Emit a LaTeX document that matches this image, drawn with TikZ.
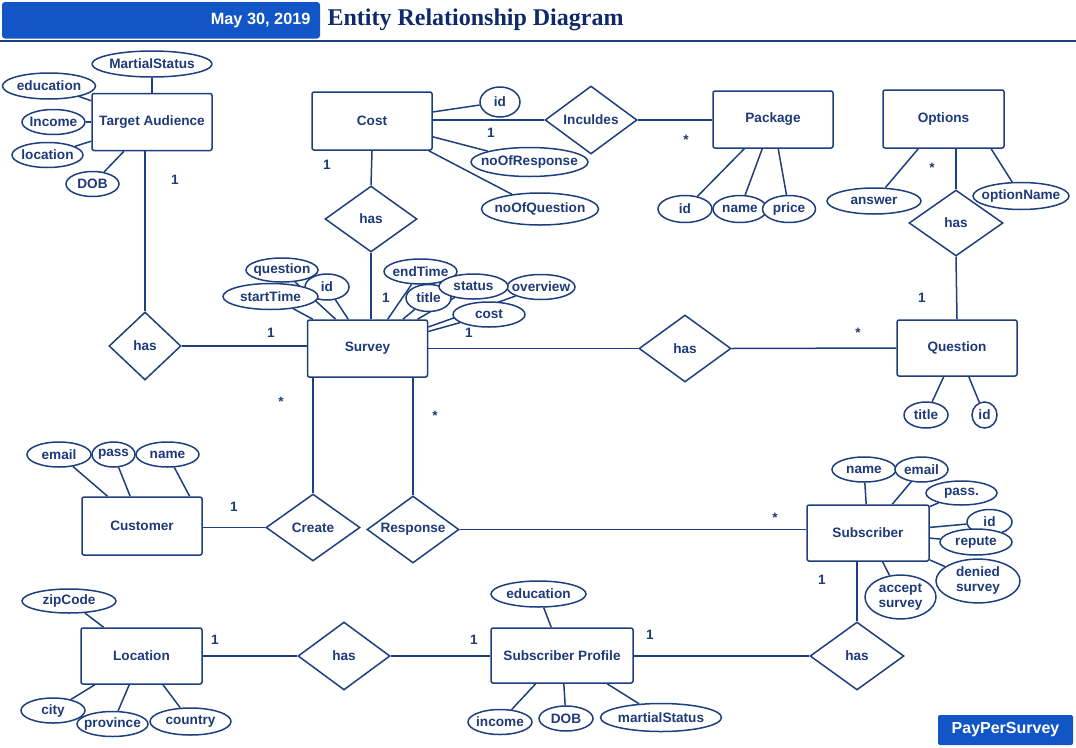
\documentclass[tikz,border=0pt]{standalone}
\usepackage{fontspec}
\setmainfont{Liberation Sans}
\newfontfamily\serifb{Liberation Serif}
\usetikzlibrary{shapes.geometric}
\definecolor{ink}{HTML}{1E3F7D}
\definecolor{txt}{HTML}{1F3A78}
\definecolor{banner}{HTML}{1155C6}
\definecolor{ttl}{HTML}{0F2A6B}
\pgfdeclarelayer{background}
\pgfsetlayers{background,main}
\newcommand{\At}[1]{\makebox[0pt]{#1}}
\newcommand{\Two}[2]{\makebox[0pt]{\begin{tabular}{@{}c@{}}#1\\#2\end{tabular}}}
\begin{document}
\begin{tikzpicture}[x=1pt,y=-1pt,
  every node/.style={font=\fontsize{13.6}{15.5}\selectfont\bfseries, text=txt},
  ent/.style={draw=ink, line width=1.5pt, rounded corners=2pt, fill=white, minimum width=120pt, minimum height=57pt, inner sep=0pt},
  attr/.style={draw=ink, ellipse, line width=1.5pt, fill=white, inner sep=0pt, minimum height=26pt},
  rel/.style={draw=ink, diamond, line width=1.5pt, fill=white, inner sep=0pt, minimum width=92pt, minimum height=66pt},
  lnk/.style={draw=ink, line width=1.5pt},
  card/.style={inner sep=0pt}
]
\useasboundingbox (0,0) rectangle (1076,747);

% header
\fill[banner, rounded corners=3pt] (2,2) rectangle (320,38.5);
\node[anchor=east, text=white, font=\fontsize{16.3}{19}\selectfont\bfseries] (date) at (314,20.5) {May 30, 2019};
\node[anchor=west, text=ttl, font=\serifb\fontsize{24}{27}\selectfont\bfseries] (title) at (324,20) {Entity Relationship Diagram};
\draw[ink, line width=1.5pt] (0,41) -- (1076,41);
\node[fill=banner, text=white, rounded corners=2pt, minimum width=135pt, minimum height=30pt, inner sep=0pt, font=\fontsize{16}{19}\selectfont\bfseries] (brand) at (1005.5,730) {PayPerSurvey};

% entities
\node[ent] (ta) at (152,122) {Target Audience};
\node[ent, minimum height=58pt] (co) at (372,121) {Cost};
\node[ent] (pk) at (773,119.5) {Package};
\node[ent, minimum width=121pt, minimum height=58pt] (op) at (943.5,119) {Options};
\node[ent] (sv) at (367.5,348.5) {Survey};
\node[ent, minimum height=56pt] (qu) at (957,348) {Question};
\node[ent, minimum height=58pt] (cu) at (142,526) {Customer};
\node[ent, minimum width=122pt, minimum height=56pt] (sb) at (868,533) {Subscriber};
\node[ent, minimum width=121pt, minimum height=56pt] (lo) at (141.5,656) {Location};
\node[ent, minimum width=142pt, minimum height=55pt] (sp) at (562,655.5) {Subscriber Profile};

% relationships
\node[rel, minimum width=72pt, minimum height=68pt] (hta) at (145,346) {has};
\node[rel] (hco) at (371,219) {has};
\node[rel, minimum height=68pt] (inc) at (591,120) {\At{Inculdes}};
\node[rel, minimum width=94pt] (hop) at (956,223) {has};
\node[rel, minimum height=67pt] (hqu) at (685,348.5) {has};
\node[rel, minimum width=94pt, minimum height=67pt] (cr) at (313,527.5) {\At{Create}};
\node[rel, minimum height=67pt] (rs) at (413,529.5) {\At{Response}};
\node[rel, minimum height=68pt] (hlo) at (344,656) {has};
\node[rel, minimum width=94pt, minimum height=68pt] (hsb) at (857,656) {has};

% attributes: Target Audience
\node[attr, minimum width=120pt] (ta1) at (152,64) {\At{MartialStatus}};
\node[attr, minimum width=93pt] (ta2) at (49,86) {\At{education}};
\node[attr, minimum width=63pt, minimum height=25pt] (ta3) at (53.5,122) {\At{Income}};
\node[attr, minimum width=71pt, minimum height=25pt] (ta4) at (47.5,155) {\At{location}};
\node[attr, minimum width=53pt, minimum height=25pt] (ta5) at (92.5,184) {\At{DOB}};
% Cost
\node[attr, minimum width=40pt, minimum height=30pt] (co1) at (500,102) {\At{id}};
\node[attr, minimum width=117pt, minimum height=29pt] (co2) at (529.5,162) {\At{noOfResponse}};
\node[attr, minimum width=117pt, minimum height=32pt] (co3) at (540,209) {\At{noOfQuestion}};
% Package
\node[attr, minimum width=54pt, minimum height=27pt] (pk1) at (685,209) {\At{id}};
\node[attr, minimum width=54pt, minimum height=27pt] (pk2) at (740,209) {\At{name}};
\node[attr, minimum width=53pt, minimum height=27pt] (pk3) at (789,209) {\At{price}};
% Options
\node[attr, minimum width=94pt] (op1) at (874,201) {\At{answer}};
\node[attr, minimum width=96pt, minimum height=27pt] (op2) at (1021,196) {\At{optionName}};
% Question
\node[attr, minimum width=44pt] (qu1) at (926,415) {\At{title}};
\node[attr, minimum width=25pt] (qu2) at (984.5,415) {\At{id}};
% Survey
\node[attr, minimum width=44pt] (sv2) at (327,287) {\At{id}};
\node[attr, minimum width=72pt, minimum height=24pt] (sv1) at (282,270) {\At{question}};
\node[attr, minimum width=95pt] (sv3) at (270.5,296.5) {\At{startTime}};
\node[attr, minimum width=73pt, minimum height=25pt] (sv4) at (420.5,271.5) {\At{endTime}};
\node[attr, minimum width=45pt, minimum height=27pt] (sv5) at (428.5,298) {\At{title}};
\node[attr, minimum width=68pt, minimum height=25pt] (sv7) at (541,287) {\At{overview}};
\node[attr, minimum width=69pt, minimum height=25pt] (sv6) at (473.5,286.5) {\At{status}};
\node[attr, minimum width=72pt, minimum height=25pt] (sv8) at (489,314.5) {\At{cost}};
% Customer
\node[attr, minimum width=64pt, minimum height=25pt] (cu1) at (59,454.5) {\At{email}};
\node[attr, minimum width=43pt, minimum height=25pt] (cu2) at (113.5,454.5) {\At{pass}};
\node[attr, minimum width=63pt, minimum height=25pt] (cu3) at (167.5,454.5) {\At{name}};
% Subscriber
\node[attr, minimum width=64pt, minimum height=25pt] (sb1) at (864,469.5) {\At{name}};
\node[attr, minimum width=53pt, minimum height=25pt] (sb2) at (921.5,469.5) {\At{email}};
\node[attr, minimum width=71pt, minimum height=24pt] (sb3) at (961.5,493) {\At{pass.}};
\node[attr, minimum width=45pt, minimum height=25pt] (sb4) at (989.5,522) {\At{id}};
\node[attr, minimum width=72pt, minimum height=26pt] (sb5) at (976,542) {\At{repute}};
\node[attr, minimum width=84pt, minimum height=38pt] (sb6) at (978,581) {\Two{denied}{survey}};
\node[attr, minimum width=71pt, minimum height=40pt] (sb7) at (900.5,597) {\Two{accept}{survey}};
% Location
\node[attr, minimum width=94pt, minimum height=24pt] (lo1) at (69,601) {\At{zipCode}};
\node[attr, minimum width=64pt, minimum height=25pt] (lo2) at (53,710.5) {\At{city}};
\node[attr, minimum width=71pt, minimum height=25pt] (lo3) at (112.5,724) {\At{province}};
\node[attr, minimum width=81pt, minimum height=27pt] (lo4) at (190.5,721.5) {\At{country}};
% Subscriber Profile
\node[attr, minimum width=95pt, minimum height=26pt] (sp1) at (538.5,594) {\At{education}};
\node[attr, minimum width=64pt, minimum height=25pt] (sp2) at (500,722) {\At{income}};
\node[attr, minimum width=54pt, minimum height=25pt] (sp3) at (566,718.5) {\At{DOB}};
\node[attr, minimum width=121pt, minimum height=28pt] (sp4) at (661,717.5) {\At{martialStatus}};

% cardinalities
\node[card] (c1) at (175,180) {1};
\node[card] (c2) at (271,333) {1};
\node[card] (c3) at (327,165) {1};
\node[card] (c4) at (491,133) {1};
\node[card] (c5) at (686,140) {*};
\node[card] (c6) at (932,168) {*};
\node[card] (c7) at (922,298) {1};
\node[card] (c8) at (386,298) {1};
\node[card] (c9) at (469,333) {1};
\node[card] (c10) at (858,333) {*};
\node[card] (c11) at (281,402) {*};
\node[card] (c12) at (435,416) {*};
\node[card] (c13) at (234,507) {1};
\node[card] (c14) at (775,518) {*};
\node[card] (c15) at (822,580) {1};
\node[card] (c16) at (650,635) {1};
\node[card] (c17) at (215,640) {1};
\node[card] (c18) at (474,640) {1};

\begin{pgfonlayer}{background}
% relationship lines
\draw[lnk] (hta.north |- ta.south) -- (hta.north);
\draw[lnk] (hta.east) -- (hta.east -| sv.west);
\draw[lnk] (co.south) -- (hco.north);
\draw[lnk] (hco.south) -- (hco.south |- sv.north);
\draw[lnk] (inc.west -| co.east) -- (inc.west);
\draw[lnk] (inc.east) -- (inc.east -| pk.west);
\draw[lnk] (hop.north |- op.south) -- (hop.north);
\draw[lnk] (hop.south) -- (qu.north);
\draw[lnk] (sv.east) -- (hqu.west);
\draw[lnk] (hqu.east) -- (qu.west);
\draw[lnk] (cr.north |- sv.south) -- (cr.north);
\draw[lnk] (cr.west) -- (cr.west -| cu.east);
\draw[lnk] (rs.north |- sv.south) -- (rs.north);
\draw[lnk] (rs.east) -- (rs.east -| sb.west);
\draw[lnk] (hsb.north |- sb.south) -- (hsb.north);
\draw[lnk] (hsb.west) -- (hsb.west -| sp.east);
\draw[lnk] (lo.east) -- (hlo.west);
\draw[lnk] (hlo.east) -- (hlo.east -| sp.west);
% attribute lines
\foreach \a in {ta1,ta2,ta3,ta4,ta5} \draw[lnk] (\a) -- (ta);
\foreach \a in {co1,co2,co3} \draw[lnk] (\a) -- (co);
\foreach \a in {pk1,pk2,pk3} \draw[lnk] (\a) -- (pk);
\draw[lnk] (op1) -- (op);
\draw[lnk] (op.-32) -- (op2);
\foreach \a in {qu1,qu2} \draw[lnk] (\a) -- (qu);
\foreach \a in {sv1,sv2,sv3,sv4,sv5,sv6,sv7,sv8} \draw[lnk] (\a) -- (sv);
\draw[lnk] (cu1) -- (cu);
\draw[lnk] (cu2) -- (cu);
\draw[lnk] (cu.32) -- (cu3);
\foreach \a in {sb1,sb2,sb3,sb4,sb5,sb6,sb7} \draw[lnk] (\a) -- (sb);
\foreach \a in {lo1,lo2,lo3,lo4} \draw[lnk] (\a) -- (lo);
\foreach \a in {sp1,sp2,sp3,sp4} \draw[lnk] (\a) -- (sp);
\end{pgfonlayer}
\end{tikzpicture}
\end{document}
